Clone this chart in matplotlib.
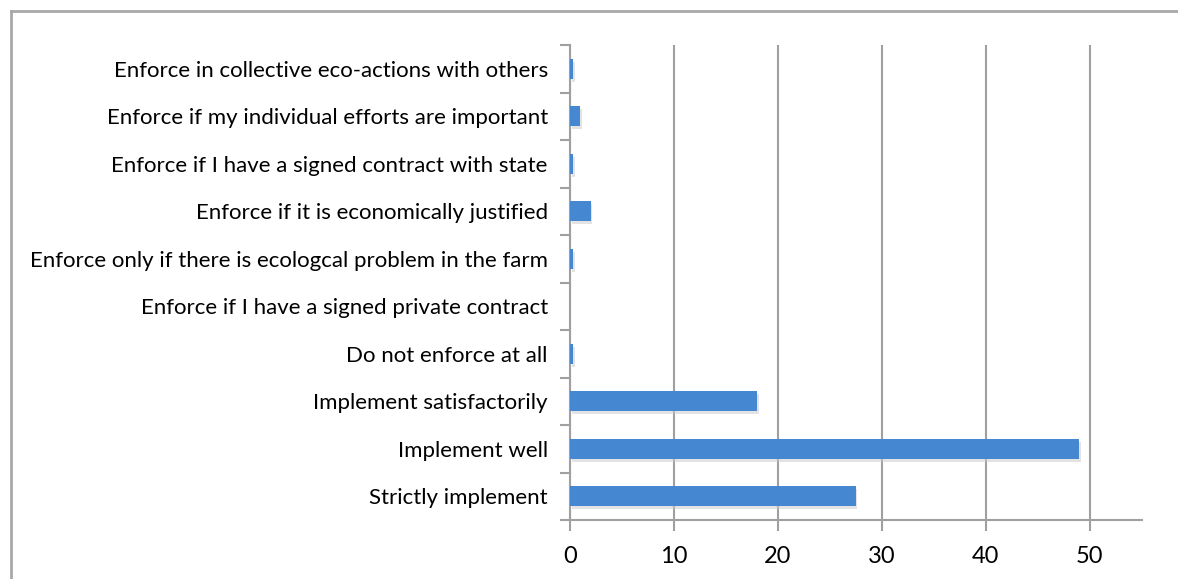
import matplotlib
matplotlib.use("Agg")
import matplotlib.pyplot as plt
from matplotlib.lines import Line2D
import numpy as np

categories = [
    "Strictly implement",
    "Implement well",
    "Implement satisfactorily",
    "Do not enforce at all",
    "Enforce if I have a signed private contract",
    "Enforce only if there is ecologcal problem in the farm",
    "Enforce if it is economically justified",
    "Enforce if I have a signed contract with state",
    "Enforce if my individual efforts are important",
    "Enforce in collective eco-actions with others",
]
values = [27.5, 49, 18, 0.3, 0, 0.3, 2, 0.3, 1, 0.3]
x_ticks = [0, 10, 20, 30, 40, 50]

plt.rcParams['font.family'] = ['Lato', 'DejaVu Sans']

fig = plt.figure(figsize=(11.78, 5.79), dpi=100)
ax = fig.add_axes([570 / 1178, 1 - 520 / 579, (1141.7 - 570) / 1178, (520 - 45) / 579])

y = np.arange(len(categories))
# soft shadow under each bar
ax.barh(y - 0.06, values, height=0.42, left=0.15, color='#c8c8c8', alpha=0.5, zorder=2)
ax.barh(y, values, height=0.42, color='#4587d0', edgecolor='none', zorder=3)

ax.set_xlim(0, 55)
ax.set_ylim(-0.5, len(categories) - 0.5)
ax.set_xticks(x_ticks)
ax.set_xticklabels([str(v) for v in x_ticks], fontsize=17)
ax.set_yticks(y)
ax.set_yticklabels(categories, fontsize=16)
ax.set_yticks(np.arange(len(categories) + 1) - 0.5, minor=True)
ax.tick_params(axis='y', which='major', length=0, pad=16)
ax.tick_params(axis='y', which='minor', length=7, color='#a0a0a0', width=1.5)
ax.tick_params(axis='x', length=8, color='#a0a0a0', width=1.5, pad=11)

ax.grid(axis='x', color='#a0a0a0', linewidth=1.5, zorder=0)
ax.set_axisbelow(True)
for side in ['top', 'right']:
    ax.spines[side].set_visible(False)
for side in ['left', 'bottom']:
    ax.spines[side].set_color('#a0a0a0')
    ax.spines[side].set_linewidth(1.5)

# outer chart frame (top and left visible)
fig.add_artist(Line2D([11 / 1178, 11 / 1178], [0, 1 - 11 / 579], transform=fig.transFigure,
                      color='#a8a8a8', linewidth=2))
fig.add_artist(Line2D([11 / 1178, 1], [1 - 11 / 579, 1 - 11 / 579], transform=fig.transFigure,
                      color='#a8a8a8', linewidth=2))

fig.savefig("out.png", dpi=100)
